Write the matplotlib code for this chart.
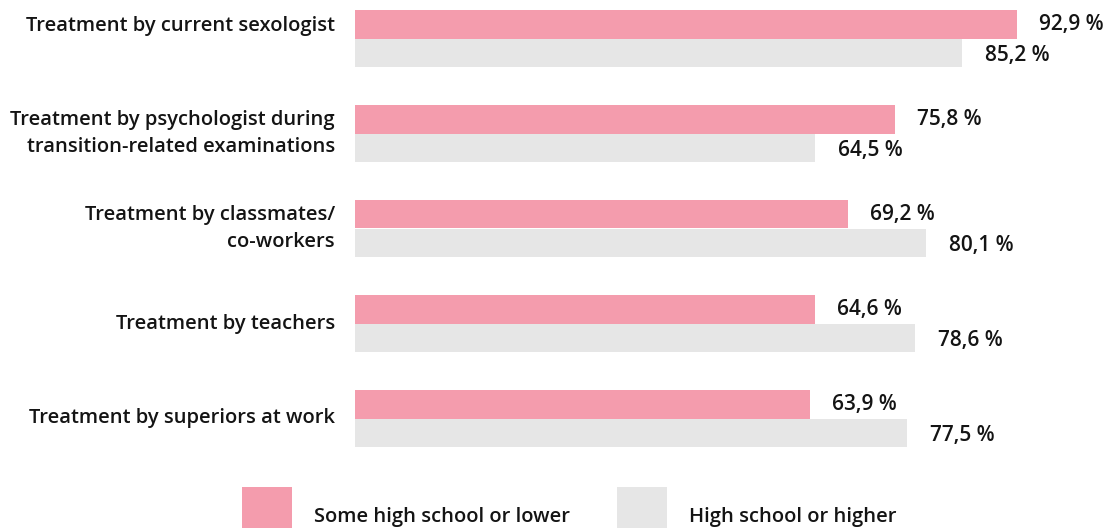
import numpy as np
import matplotlib
matplotlib.use("Agg")
import matplotlib.pyplot as plt
from matplotlib.patches import Rectangle

categories = [
    "Treatment by current sexologist",
    "Treatment by psychologist during\ntransition-related examinations",
    "Treatment by classmates/\nco-workers",
    "Treatment by teachers",
    "Treatment by superiors at work",
]
lower_school = [92.9, 75.8, 69.2, 64.6, 63.9]
higher_school = [85.2, 64.5, 80.1, 78.6, 77.5]
series_names = ["Some high school or lower", "High school or higher"]

PINK = "#f49cad"
GREY = "#e6e6e6"
INK = "#141414"
FONT = ["Open Sans", "DejaVu Sans"]
WEIGHT = 600
FS = 14.5

W, H = 1120, 528
fig = plt.figure(figsize=(W / 100, H / 100), dpi=100)

# one y-unit per category group (95 px), bars 0.3 units tall each
group_px = 95.0
top_px, bottom_px = 0.0, 470.0
first_mid = 38.5
y0 = (top_px - first_mid) / group_px
y1 = (bottom_px - first_mid) / group_px
left_px, right_px = 355.0, 355.0 + 712.6
ax = fig.add_axes([left_px / W, 1 - bottom_px / H,
                   (right_px - left_px) / W, (bottom_px - top_px) / H])
ax.set_xlim(0, 100)
ax.set_ylim(y1, y0)
ax.axis("off")

idx = np.arange(len(categories))
bh = 0.3
ax.barh(idx - bh / 2, lower_school, height=bh, color=PINK, linewidth=0)
ax.barh(idx + bh / 2, higher_school, height=bh, color=GREY, linewidth=0)

px = 100 / 712.6  # data units per pixel on x
for i, (a, b) in enumerate(zip(lower_school, higher_school)):
    ax.text(a + 22 * px, i - bh / 2, f"{a:.1f} %".replace(".", ","),
            va="center", ha="left", fontsize=FS + 0.5, fontweight=WEIGHT,
            color=INK, family=FONT)
    ax.text(b + 23 * px, i + bh / 2 + 0.03, f"{b:.1f} %".replace(".", ","),
            va="center", ha="left", fontsize=FS + 0.5, fontweight=WEIGHT,
            color=INK, family=FONT)

label_shift = [-bh * 0.45, 0, 0, 0, 0]
for i, lab in enumerate(categories):
    ax.text(-20 * px, i + label_shift[i], lab, va="center", ha="right",
            fontsize=FS, fontweight=WEIGHT, color=INK, family=FONT,
            linespacing=1.45)

# legend along the bottom edge
for (x, col), name in zip([(242, PINK), (617, GREY)], series_names):
    fig.add_artist(Rectangle((x / W, 0), 50 / W, 41 / H,
                             transform=fig.transFigure, color=col, lw=0))
    fig.text((x + 72) / W, 1 - 517 / H, name, va="center", ha="left",
             fontsize=FS, fontweight=WEIGHT, color=INK, family=FONT)

fig.savefig("out.png", dpi=100, facecolor="white")
